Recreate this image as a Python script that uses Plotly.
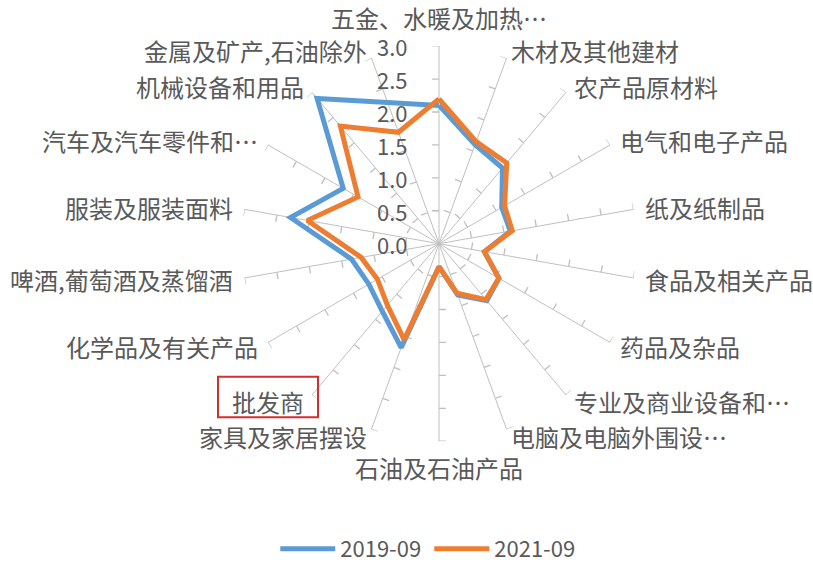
import plotly.graph_objects as go
import numpy as np

categories = [
    "五金、水暖及加热…", "木材及其他建材", "农产品原材料", "电气和电子产品",
    "纸及纸制品", "食品及相关产品", "药品及杂品", "专业及商业设备和…",
    "电脑及电脑外围设…", "石油及石油产品", "家具及家居摆设", "批发商",
    "化学品及有关产品", "啤酒,葡萄酒及蒸馏酒", "服装及服装面料",
    "汽车及汽车零件和…", "机械设备和用品", "金属及矿产,石油除外",
]
v2019 = [2.10, 1.60, 1.50, 1.10, 1.10, 0.70, 1.05, 1.13, 0.83, 0.35,
         1.68, 1.34, 1.23, 1.35, 2.29, 1.68, 2.88, 2.28]
v2021 = [2.20, 1.65, 1.60, 1.15, 1.13, 0.70, 1.05, 1.11, 0.80, 0.35,
         1.55, 1.22, 1.08, 1.20, 2.03, 1.42, 2.33, 1.80]
radial_ticks = [0.0, 0.5, 1.0, 1.5, 2.0, 2.5, 3.0]
series_names = ["2019-09", "2021-09"]
series_colors = ["#5B9BD5", "#ED7D31"]

W, H = 813, 570
cx, cy, R = 439, 246.7, 200
RMAX = 3.0
px_per_unit = R / RMAX

n = len(categories)
angles = [i * 360.0 / n for i in range(n)]

fig = go.Figure()

# small tick hooks on every spoke (counterclockwise side)
d = 7 / px_per_unit
tr, tt = [], []
for a in angles:
    for v in radial_ticks[1:]:
        tr += [v, float(np.hypot(v, d)), None]
        tt += [a, a - float(np.degrees(np.arctan(d / v))), None]
fig.add_trace(go.Scatterpolar(r=tr, theta=tt, mode="lines",
                              line=dict(color="#BFBFBF", width=1.3),
                              showlegend=False, hoverinfo="skip", cliponaxis=False))

font_fam = "Noto Sans CJK SC, Microsoft YaHei, sans-serif"

for name, vals, col in zip(series_names, [v2019, v2021], series_colors):
    fig.add_trace(go.Scatterpolar(
        r=vals + vals[:1], theta=angles + angles[:1], mode="lines", name=name,
        line=dict(color=col, width=5), cliponaxis=False))

annotations = []
# radial value labels, left of the vertical spoke
for v in radial_ticks:
    annotations.append(dict(x=(cx - 30) / W, y=1 - (cy - v * px_per_unit) / H,
                            xref="paper", yref="paper", text=f"{v:.1f}",
                            showarrow=False, xanchor="right", yanchor="middle",
                            borderpad=0,
                            font=dict(size=22, color="#595959", family=font_fam)))

# category labels placed just beyond the spoke ends
Rl = R + 8
for a, cat in zip(angles, categories):
    s, c = np.sin(np.radians(a)), np.cos(np.radians(a))
    if abs(s) < 1e-6:
        xa = "center"
        ya = "bottom" if c > 0 else "top"
        rr = Rl + 2 if c > 0 else Rl
    else:
        xa = "left" if s > 0 else "right"
        ya = "middle"
        rr = Rl
    px = cx + rr * s
    py = cy - rr * c
    annotations.append(dict(x=px / W, y=1 - py / H, xref="paper", yref="paper",
                            text=cat, showarrow=False, xanchor=xa, yanchor=ya,
                            borderpad=0,
                            font=dict(size=24, color="#595959", family=font_fam)))

fig.update_layout(
    width=W, height=H,
    margin=dict(l=0, r=0, t=0, b=0),
    paper_bgcolor="white", plot_bgcolor="white",
    font=dict(family=font_fam, color="#595959", size=22),
    polar=dict(
        domain=dict(x=[(cx - R) / W, (cx + R) / W], y=[(H - cy - R) / H, (H - cy + R) / H]),
        bgcolor="white",
        angularaxis=dict(direction="clockwise", rotation=90, thetaunit="degrees",
                         tickmode="array", tickvals=angles, ticktext=categories,
                         showgrid=True, gridcolor="#C0C0C0", gridwidth=1.3,
                         showline=False, ticks="", showticklabels=False),
        radialaxis=dict(range=[0, RMAX], angle=90, tickmode="array", tickvals=radial_ticks,
                        showgrid=False, showline=False, ticks="", showticklabels=False),
    ),
    legend=dict(orientation="h", x=0.528, xanchor="center", y=0.025, yanchor="middle",
                font=dict(size=22, color="#595959", family=font_fam),
                itemwidth=55, entrywidth=84, entrywidthmode="pixels"),
    annotations=annotations,
    shapes=[dict(type="rect", xref="paper", yref="paper",
                 x0=218 / W, x1=318 / W, y0=1 - 422.5 / H, y1=1 - 381.5 / H,
                 line=dict(color="#D32F2F", width=2))],
)

fig.write_html("out.html")
